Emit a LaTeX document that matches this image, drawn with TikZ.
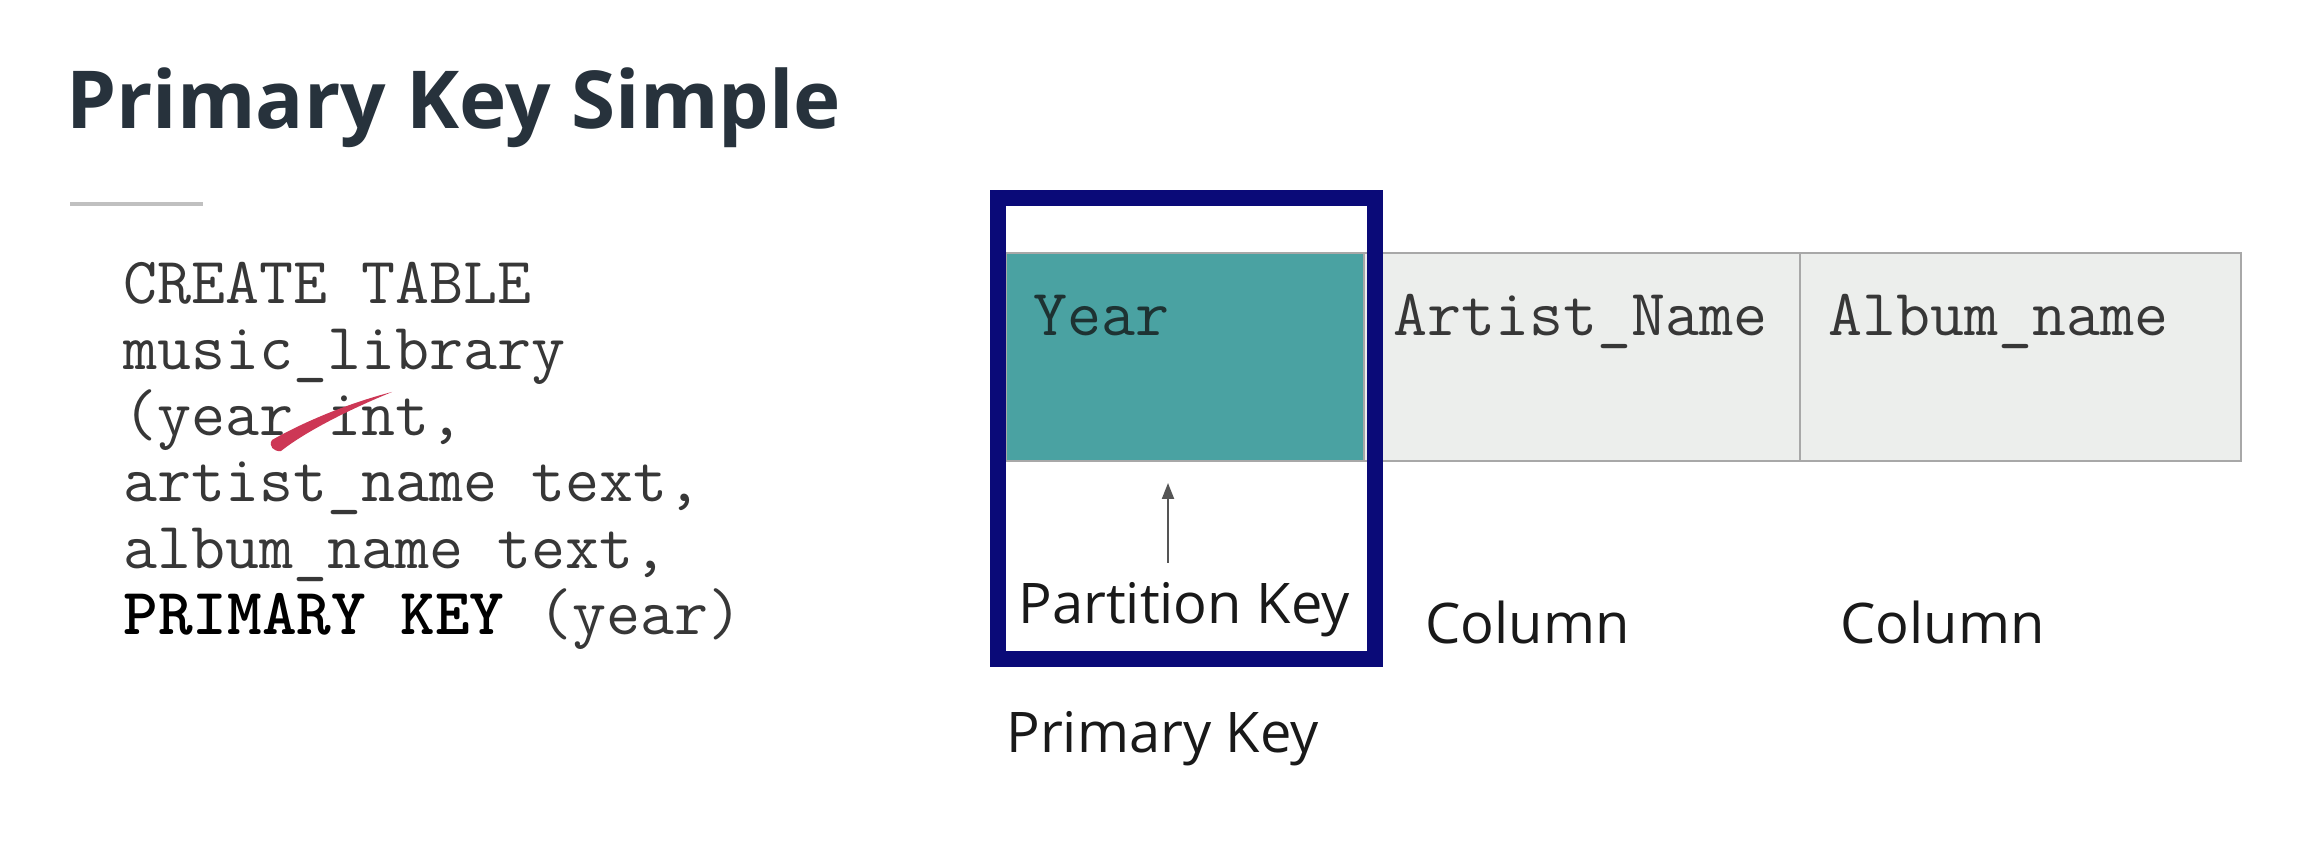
\documentclass[tikz,border=0pt]{standalone}
\usepackage{fontspec}
\setmainfont{Open Sans}
\usetikzlibrary{arrows.meta}
\definecolor{titlec}{RGB}{39,50,60}
\definecolor{rulec}{RGB}{192,192,192}
\definecolor{codec}{RGB}{55,55,55}
\definecolor{labc}{RGB}{25,25,25}
\definecolor{tealc}{RGB}{74,162,162}
\definecolor{cellgray}{RGB}{236,238,236}
\definecolor{tline}{RGB}{168,168,168}
\definecolor{navyc}{RGB}{10,10,120}
\definecolor{yearc}{RGB}{30,50,50}
\definecolor{redc}{RGB}{205,55,85}
\definecolor{arrc}{RGB}{85,85,85}
\begin{document}
\begin{tikzpicture}[x=0.5pt,y=-0.5pt,
  code/.style={anchor=base west, inner sep=0pt, font=\ttfamily\fontsize{33}{33}\selectfont, text=codec},
  lab/.style={anchor=base west, inner sep=0pt, font=\fontsize{28}{28}\selectfont, text=labc},
  tableline/.style={draw=tline, line width=1.2pt},
  arr/.style={draw=arrc, line width=1pt, -{Triangle[length=8pt,width=6pt]}}]
\useasboundingbox[fill=white] (0,0) rectangle (2304,844);
% title
\node[anchor=base west, inner sep=0pt, font=\bfseries\fontsize{40}{40}\selectfont, text=titlec] (title) at (66,129) {Primary Key Simple};
\draw[line width=2pt, rulec] (70,204) -- (203,204);
% code
\node[code] (c1) at (123,304) {CREATE TABLE};
\node[code] (c2) at (123,370) {music\_library};
\node[code] (c3) at (123,436) {(year int,};
\node[code] (c4) at (123,502) {artist\_name text,};
\node[code] (c5) at (123,568) {album\_name text,};
\node[code] (c6) at (123,634) {\textbf{\color{black}PRIMARY KEY} (year)};
% red annotation stroke
\fill[redc] (272,440) .. controls (300,424) and (345,404) .. (392,392)
  .. controls (348,410) and (305,432) .. (281,451) .. controls (274,452) and (268,446) .. (272,440) -- cycle;
% table
\fill[cellgray] (1006,253) rectangle (2241,461);
\fill[tealc] (1006,253) rectangle (1364,461);
\draw[tableline] (1006,253) rectangle (2241,461);
\draw[tableline] (1364,253) -- (1364,461);
\draw[tableline] (1800,253) -- (1800,461);
\draw[navyc, line width=8pt] (998,198) rectangle (1375,659);
\node[code, text=yearc] (year) at (1033,336) {Year};
\node[code] (artist) at (1393,336) {Artist\_Name};
\node[code] (album) at (1828,336) {Album\_name};
% labels
\coordinate (arrS) at (1168,563);
\coordinate (arrE) at (1168,483);
\draw[arr] (arrS) -- (arrE);
\node[lab] (pkey) at (1018,624) {Partition Key};
\node[lab] (col1) at (1425,644) {Column};
\node[lab] (col2) at (1840,644) {Column};
\node[lab] (prim) at (1006,752) {Primary Key};
\end{tikzpicture}
\end{document}
